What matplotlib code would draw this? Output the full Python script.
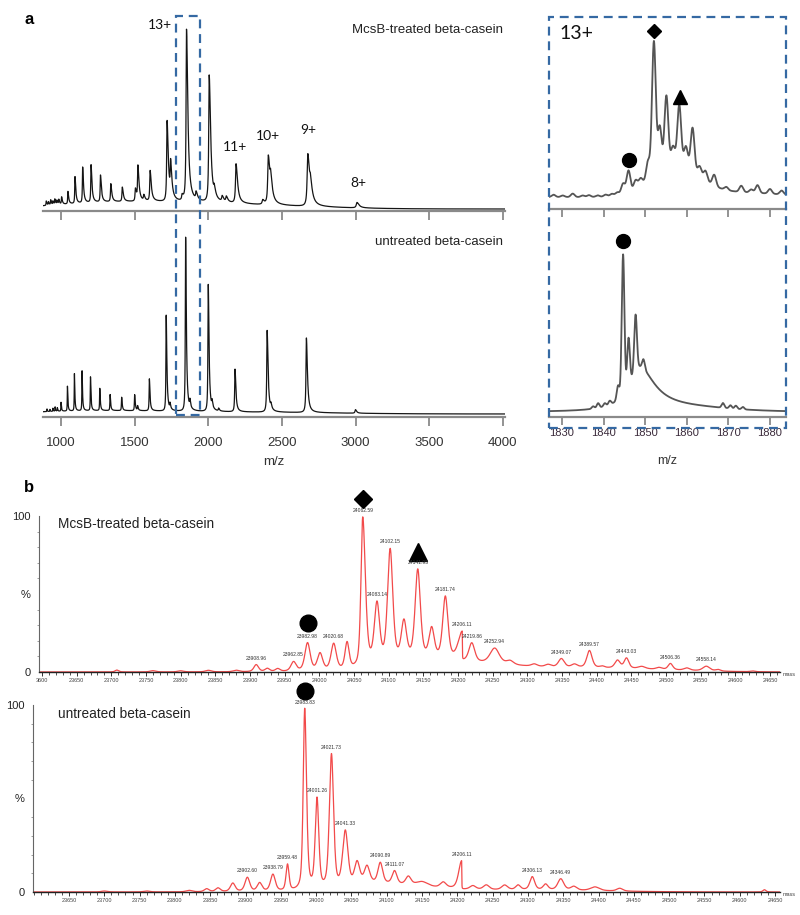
import numpy as np
import matplotlib
matplotlib.use('Agg')
import matplotlib.pyplot as plt
from matplotlib.patches import Rectangle
from matplotlib.transforms import blended_transform_factory
from matplotlib.ticker import MultipleLocator

plt.rcParams['font.family'] = ['Liberation Sans', 'DejaVu Sans']

W, H = 800, 915

# ---------------- panel a: ESI overview spectra (m/z, rel. intensity) ----------------
mcsb_mz = [900, 915, 930, 945, 958, 972, 985, 1004, 1047, 1095, 1147, 1204, 1268, 1338,
           1416, 1505, 1522, 1562, 1605, 1720, 1744, 1822, 1852, 1917, 2006, 2040, 2094,
           2122, 2188, 2369, 2407, 2423, 2675, 2693, 3009]
mcsb_h = [2.5, 1.8, 2.8, 2.0, 3.0, 2.2, 2.6, 4.0, 7, 15, 20, 21, 15, 10,
          8, 7, 19, 3, 17, 45, 18, 3, 96, 4, 71, 4, 3,
          3, 22, 2.5, 27, 9, 29, 7, 3]
mcsb_bg_mz = [1400, 2200]
mcsb_bg_h = [3.5, 2.0]
mcsb_bg_w = [450, 500]

untr_mz = [905, 925, 945, 960, 975, 1000.3, 1043.8, 1091.1, 1143.0, 1200.2, 1263.3, 1333.4,
           1411.8, 1499.9, 1520, 1599.9, 1714.1, 1740, 1845.9, 1875, 1999.6, 2025, 2070,
           2181.3, 2399.3, 2425, 2665.8, 2998.9]
untr_h = [1.5, 1.2, 1.8, 2.5, 2.0, 5, 14, 21, 22.5, 19, 12.5, 9,
          7.5, 9, 2.5, 18, 54, 3, 98, 4, 71.5, 3.5, 1.5,
          24, 46, 2.5, 42, 2]
untr_bg_mz = [1300, 2400]
untr_bg_h = [1.8, 0.8]
untr_bg_w = [500, 500]

a_ticks = [1000, 1500, 2000, 2500, 3000, 3500, 4000]
box_mz = (1780, 1945)

# ---------------- panel a: 13+ charge state zoom ----------------
z13_mcsb_mz = [1828.0, 1830.2, 1832.6, 1835.0, 1836.5, 1838.6, 1840.5, 1842.0, 1843.3,
               1844.7, 1846.0, 1847.7, 1848.9, 1850.7, 1852.1, 1853.5, 1855.1, 1856.7,
               1858.2, 1859.8, 1861.4, 1863.1, 1864.5, 1866.6, 1869.5, 1873.1, 1875.5,
               1877.0, 1880.0, 1882.8]
z13_mcsb_h = [1.5, 1.0, 2.2, 1.0, 1.2, 1.0, 1.3, 1.5, 2.0,
              6.8, 14, 5.5, 4.5, 11.6, 85, 27, 44, 10,
              37, 12, 27, 6, 6, 7, 2, 4, 2,
              5, 3, 2.5]
z13_mcsb_env_mz = [1857, 1872]
z13_mcsb_env_h = [22, 3]
z13_mcsb_env_w = [5.5, 10]

z13_untr_mz = [1837.5, 1838.7, 1840.3, 1841.5, 1843.5, 1844.7, 1846.0, 1847.7, 1849.6,
               1868.7, 1870.5, 1871.8, 1873.5]
z13_untr_h = [1.5, 3, 2, 2.5, 9, 89, 30, 35, 6,
              3, 2, 2, 1.5]
z13_untr_env_mz = [1848.5, 1860]
z13_untr_env_h = [28, 2]

z13_ticks = [1830, 1840, 1850, 1860, 1870, 1880]

# ---------------- panel b: deconvoluted mass spectra (mass, %) ----------------
bt_mass = [23708, 23760, 23800, 23840, 23880, 23908.96, 23925, 23940, 23962.85, 23982.98,
           24001, 24020.68, 24040, 24062.59, 24083.14, 24102.15, 24122, 24141.95, 24162,
           24181.74, 24206.11, 24219.86, 24252.94, 24275, 24310, 24330, 24349.07, 24368,
           24389.57, 24408, 24430, 24443.03, 24465, 24490, 24506.36, 24530, 24558.14,
           24575, 24625]
bt_h = [1.2, 0.8, 0.7, 1.0, 1.0, 4.5, 2, 1.8, 6, 18,
        11, 17, 17, 96, 38, 72, 24, 57, 19,
        40, 18, 12, 10, 2.5, 1.5, 1.5, 5.5, 2,
        11, 1, 5, 6.5, 1.5, 1.2, 4, 1.5, 3,
        1, 0.5]
bt_fl = [6, 10, 10, 10, 10, 8, 8, 8, 9, 9,
         9, 9, 7, 6, 9, 9, 9, 9, 9,
         9, 14, 10, 16, 12, 10, 10, 10, 10,
         9, 8, 9, 8, 12, 10, 8, 10, 12,
         8, 8]
bt_fr = [6, 10, 10, 10, 10, 8, 8, 8, 9, 9,
         9, 9, 7, 9, 9, 9, 9, 9, 9,
         9, 0.5, 10, 16, 12, 10, 10, 10, 10,
         9, 8, 9, 8, 12, 10, 8, 10, 12,
         8, 8]
bt_bg_mass = [24150, 24420]
bt_bg_h = [7, 2]
bt_bg_wl = [50, 90]
bt_bg_wr = [110, 90]
bt_labels = [23908.96, 23962.85, 23982.98, 24020.68, 24062.59, 24083.14, 24102.15,
             24141.95, 24181.74, 24206.11, 24219.86, 24252.94, 24349.07, 24389.57,
             24443.03, 24506.36, 24558.14]

bb_mass = [23700, 23760, 23820, 23845, 23861, 23882, 23902.60, 23920, 23938.79, 23959.48,
           23983.83, 24001.26, 24021.73, 24041.33, 24058, 24072, 24090.89, 24111.07,
           24130.6, 24150, 24180, 24206.11, 24222, 24241, 24267, 24286, 24306.13, 24325,
           24346.49, 24365, 24395, 24430, 24635]
bb_h = [0.5, 0.5, 0.8, 1.6, 2, 4.5, 7.5, 4.5, 9, 14,
        97, 48, 72, 30, 12, 9, 11, 7,
        4.5, 2.5, 3, 15, 2, 2.5, 2.5, 2.5, 7, 3,
        6, 2, 2, 1.5, 1.2]
bb_fl = [10, 10, 10, 8, 8, 8, 8, 8, 8, 5,
         5, 6, 7, 9, 9, 9, 8, 8,
         9, 20, 10, 10, 10, 10, 10, 8, 8, 8,
         10, 10, 15, 10, 5]
bb_fr = [10, 10, 10, 8, 8, 8, 8, 8, 8, 5,
         6, 6, 7, 9, 9, 9, 8, 8,
         9, 20, 10, 0.5, 10, 10, 10, 8, 8, 8,
         10, 10, 15, 10, 5]
bb_bg_mass = [24080, 24300]
bb_bg_h = [4, 1]
bb_bg_wl = [25, 100]
bb_bg_wr = [70, 100]
bb_labels = [23902.60, 23938.79, 23959.48, 23983.83, 24001.26, 24021.73, 24041.33,
             24090.89, 24111.07, 24206.11, 24306.13, 24346.49]


# ---------------- peak shapes ----------------
def lorentz(x, c, h, wl, wr):
    w = np.where(x < c, wl, wr)
    return h / (1 + ((x - c) / w) ** 2)


def gauss(x, c, h, sl, sr):
    s = np.where(x < c, sl, sr)
    return h * np.exp(-0.5 * ((x - c) / s) ** 2)


def pvoigt(x, c, h, fl, fr, eta=0.5):
    f = np.where(x < c, fl, fr)
    d = (x - c) / f
    return h * (eta / (1 + 4 * d ** 2) + (1 - eta) * np.exp(-4 * np.log(2) * d ** 2))


def overview(x, mz, h, bg_mz, bg_h, bg_w, kl, kr):
    y = np.zeros_like(x)
    for c, hh in zip(mz, h):
        y += lorentz(x, c, hh, kl * c, kr * c)
    for c, hh, w in zip(bg_mz, bg_h, bg_w):
        y += gauss(x, c, hh, w, w)
    return y


def deconv(x, mass, h, fl, fr, bgm, bgh, bgl, bgr):
    y = np.zeros_like(x)
    for c, hh, a, b in zip(mass, h, fl, fr):
        y += pvoigt(x, c, hh, a, b)
    for c, hh, a, b in zip(bgm, bgh, bgl, bgr):
        y += gauss(x, c, hh, a, b)
    return y


def box(x0, y0, x1, y1):
    return [x0 / W, 1 - y1 / H, (x1 - x0) / W, (y1 - y0) / H]


fig = plt.figure(figsize=(W / 100, H / 100), dpi=100)

gray = '#8a8a8a'
blue = '#3569a3'

# ---------------- panel a left ----------------
x_a = np.linspace(878, 4014, 9000)
y_mcsb = overview(x_a, mcsb_mz, mcsb_h, mcsb_bg_mz, mcsb_bg_h, mcsb_bg_w, 0.0018, 0.0055)
y_untr = overview(x_a, untr_mz, untr_h, untr_bg_mz, untr_bg_h, untr_bg_w, 0.0012, 0.003)

ax1 = fig.add_axes(box(43, 20, 505, 211))
ax2 = fig.add_axes(box(43, 222, 505, 417))
ax1.plot(x_a, y_mcsb, color='#151515', lw=0.9)
ax2.plot(x_a, y_untr, color='#151515', lw=0.9)
ax1.set_ylim(-1.1, 105.6)
ax2.set_ylim(-1.7, 108)
for ax in (ax1, ax2):
    ax.set_xlim(878, 4014)
    ax.set_xticks(a_ticks)
    ax.set_yticks([])
    for s in ('left', 'top', 'right'):
        ax.spines[s].set_visible(False)
    ax.spines['bottom'].set_color(gray)
    ax.spines['bottom'].set_linewidth(1.6)
    ax.tick_params(axis='x', direction='out', length=6.5, width=1.3, color=gray,
                   labelsize=9.5, labelcolor='#333333', pad=8)
    ax.patch.set_visible(False)
ax1.tick_params(labelbottom=False)
ax2.set_xlabel('m/z', fontsize=9.5, color='#333333', labelpad=5)

ax1.text(4000, 100, 'McsB-treated beta-casein', ha='right', va='center', fontsize=9.5,
         color='#222222')
ax2.text(4000, 97, 'untreated beta-casein', ha='right', va='center', fontsize=9.5,
         color='#222222')

cfont = dict(family=['Lato', 'DejaVu Sans'], fontsize=10, color='#111111',
             ha='center', va='center')
ax1.text(1670, 103, '13+', **cfont)
ax1.text(2181, 34.5, '11+', **cfont)
ax1.text(2405, 41, '10+', **cfont)
ax1.text(2677, 44, '9+', **cfont)
ax1.text(3016, 14.5, '8+', **cfont)

# dashed box around 13+ in overview
bt = blended_transform_factory(ax1.transData, fig.transFigure)
fig.add_artist(Rectangle((box_mz[0], 1 - 415 / H), box_mz[1] - box_mz[0], (415 - 16) / H,
                         transform=bt, fill=False, edgecolor=blue, lw=1.6,
                         linestyle=(0, (4, 2.6))))

# ---------------- panel a right (13+ zoom) ----------------
x_r = np.linspace(1826.9, 1883.85, 4000)
y_r1 = np.zeros_like(x_r)
for c, hh in zip(z13_mcsb_mz, z13_mcsb_h):
    y_r1 += gauss(x_r, c, hh, 0.45, 0.45)
for c, hh, w in zip(z13_mcsb_env_mz, z13_mcsb_env_h, z13_mcsb_env_w):
    y_r1 += gauss(x_r, c, hh, w, w)
y_r2 = np.zeros_like(x_r)
for c, hh in zip(z13_untr_mz, z13_untr_h):
    y_r2 += gauss(x_r, c, hh, 0.32, 0.32)
y_r2 += lorentz(x_r, z13_untr_env_mz[0], z13_untr_env_h[0], 3.0, 4.5)
y_r2 += gauss(x_r, z13_untr_env_mz[1], z13_untr_env_h[1], 10, 10)

ax3 = fig.add_axes(box(549, 20, 786, 209))
ax4 = fig.add_axes(box(549, 222, 786, 417))
ax3.plot(x_r, y_r1, color='#555555', lw=1.3)
ax4.plot(x_r, y_r2, color='#555555', lw=1.3)
ax3.set_ylim(-7.7, 114)
ax4.set_ylim(-3.2, 121)
for ax in (ax3, ax4):
    ax.set_xlim(1826.9, 1883.85)
    ax.set_xticks(z13_ticks)
    ax.set_yticks([])
    for s in ('left', 'top', 'right'):
        ax.spines[s].set_visible(False)
    ax.spines['bottom'].set_color(gray)
    ax.spines['bottom'].set_linewidth(1.6)
    ax.tick_params(axis='x', direction='out', length=5.5, width=1.3, color=gray,
                   labelsize=8, labelcolor='#3a2a3a', pad=2.5)
    ax.patch.set_visible(False)
ax3.tick_params(labelbottom=False)
ax4.set_xlabel('m/z', fontsize=9, color='#333333', labelpad=12)

ax3.text(1829.5, 105.6, '13+', family=['Lato', 'DejaVu Sans'], fontsize=14,
         ha='left', va='center', color='#111111')
ax3.plot([1852.1], [107], marker='D', ms=7, color='black', clip_on=False)
ax3.plot([1858.4], [64.4], marker='^', ms=10, color='black', clip_on=False)
ax3.plot([1846.1], [23.8], marker='o', ms=10, color='black', clip_on=False)
ax4.plot([1844.7], [109], marker='o', ms=10, color='black', clip_on=False)

fig.add_artist(Rectangle((549 / W, 1 - 428 / H), (786 - 549) / W, (428 - 17) / H,
                         transform=fig.transFigure, fill=False, edgecolor=blue, lw=1.6,
                         linestyle=(0, (4, 2.6))))

# ---------------- panel b ----------------
x_b = np.linspace(23590, 24670, 12000)
y_bt = deconv(x_b, bt_mass, bt_h, bt_fl, bt_fr, bt_bg_mass, bt_bg_h, bt_bg_wl, bt_bg_wr)
y_bb = deconv(x_b, bb_mass, bb_h, bb_fl, bb_fr, bb_bg_mass, bb_bg_h, bb_bg_wl, bb_bg_wr)

ax5 = fig.add_axes(box(39, 516, 780, 672))
ax6 = fig.add_axes(box(33, 705, 780, 892))
ax5.plot(x_b, y_bt, color='#f24a4a', lw=0.9)
ax6.plot(x_b, y_bb, color='#f24a4a', lw=0.9)
ax5.set_xlim(23595.7, 24664.4)
ax6.set_xlim(23599, 24657)
ax5.set_xticks(np.arange(23600, 24651, 50))
ax5.set_xticklabels(['3600'] + [str(v) for v in range(23650, 24651, 50)])
ax6.set_xticks(np.arange(23650, 24651, 50))
for ax in (ax5, ax6):
    ax.set_ylim(0, 100)
    ax.set_yticks([0, 50, 100])
    ax.set_yticklabels(['0', '%', '100'])
    ax.xaxis.set_minor_locator(MultipleLocator(10))
    ax.yaxis.set_minor_locator(MultipleLocator(10))
    for s in ('top', 'right'):
        ax.spines[s].set_visible(False)
    ax.spines['bottom'].set_color('#222222')
    ax.spines['bottom'].set_linewidth(1.0)
    ax.spines['left'].set_color('#666666')
    ax.spines['left'].set_linewidth(0.8)
    ax.tick_params(axis='x', which='major', direction='out', length=3, width=0.7,
                   color='#333333', labelsize=4, labelcolor='#444444', pad=1.5)
    ax.tick_params(axis='x', which='minor', direction='out', length=1.8, width=0.6,
                   color='#333333')
    ax.tick_params(axis='y', which='major', length=0, labelsize=8, labelcolor='#222222',
                   pad=6)
    ax.tick_params(axis='y', which='minor', direction='out', length=1.5, width=0.5,
                   color='#777777')
    ax.text(1.003, 0.0, 'mass', transform=ax.transAxes, fontsize=4, color='#444444',
            ha='left', va='top')

ax5.text(23623, 95, 'McsB-treated beta-casein', fontsize=9.8, color='#222222',
         ha='left', va='center')
ax6.text(23634, 95, 'untreated beta-casein', fontsize=9.8, color='#222222',
         ha='left', va='center')

for m in bt_labels:
    yv = np.interp(m, x_b, y_bt)
    ax5.text(m, yv + 2.5, f'{m:.2f}', fontsize=3.6, color='#333333', ha='center',
             va='bottom', clip_on=False)
for m in bb_labels:
    yv = np.interp(m, x_b, y_bb)
    ax6.text(m, yv + 2.0, f'{m:.2f}', fontsize=3.6, color='#333333', ha='center',
             va='bottom', clip_on=False)

ax5.plot([24062.59], [110.9], marker='D', ms=9, color='black', clip_on=False)
ax5.plot([24142.5], [77], marker='^', ms=13, color='black', clip_on=False)
ax5.plot([23983], [31.4], marker='o', ms=12, color='black', clip_on=False)
ax6.plot([23983.83], [107.5], marker='o', ms=12, color='black', clip_on=False)

fig.text(29 / W, 1 - 20 / H, 'a', fontsize=12, fontweight='bold', ha='center', va='center')
fig.text(29 / W, 1 - 488 / H, 'b', fontsize=12, fontweight='bold', ha='center', va='center')

fig.savefig('out.png', dpi=100)
